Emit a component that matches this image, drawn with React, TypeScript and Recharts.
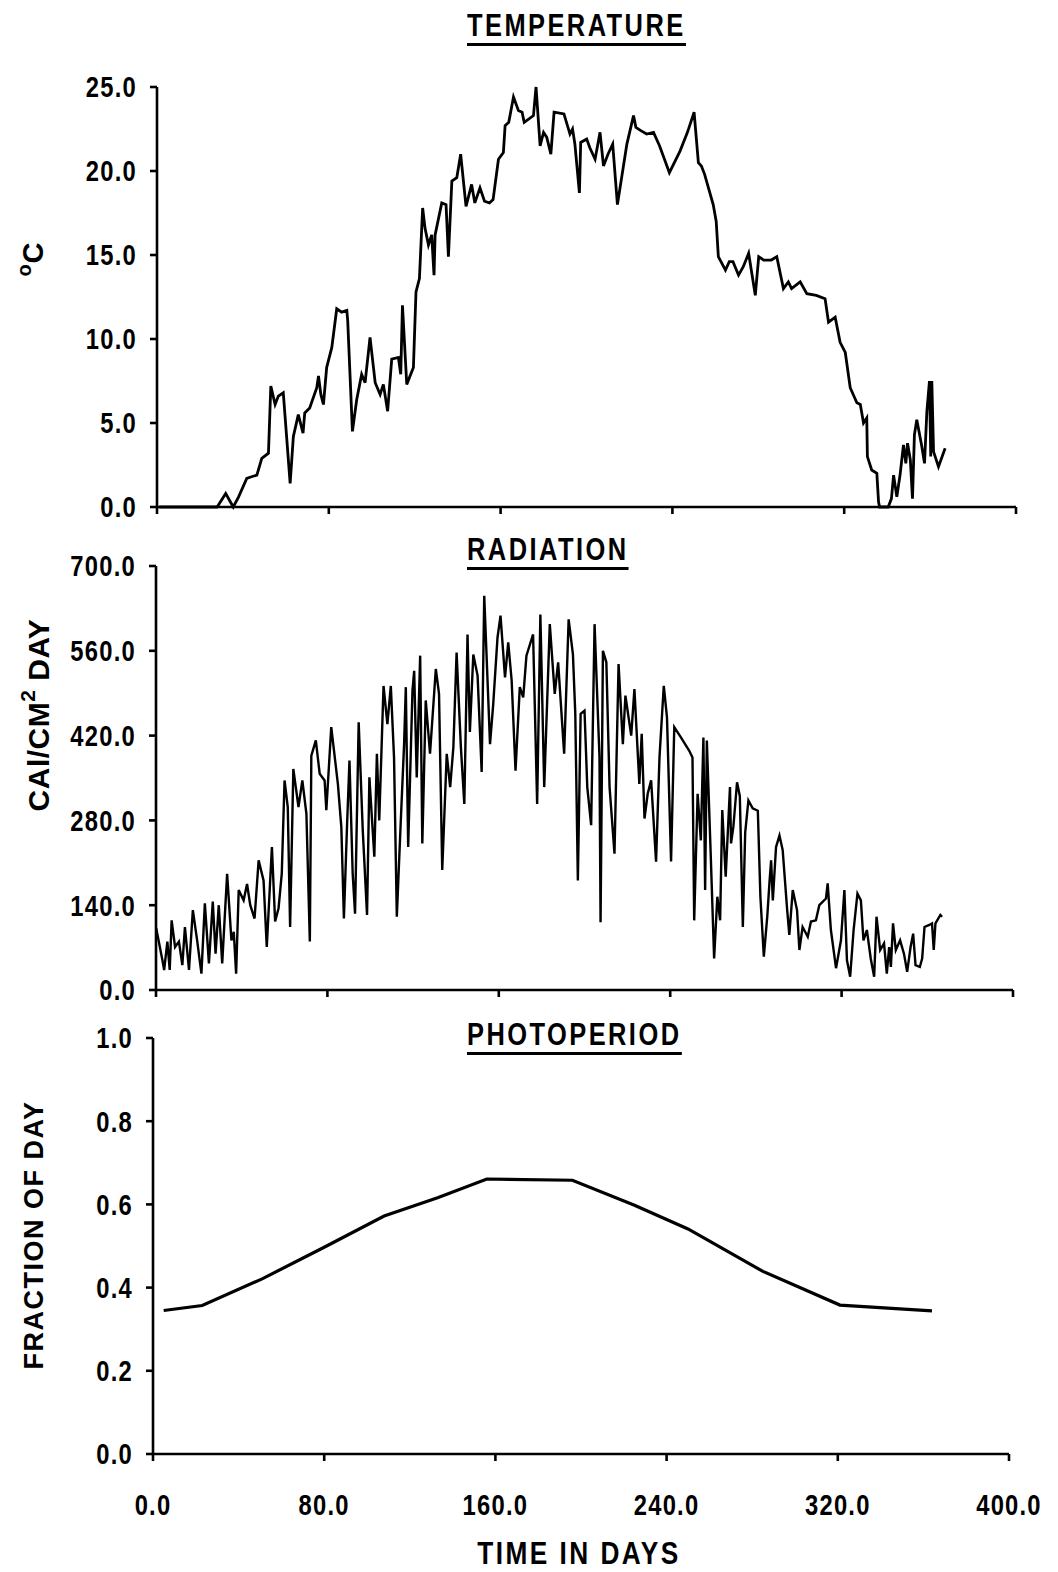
import React from 'react';
import { LineChart, Line, XAxis, YAxis } from 'recharts';

// shared day axis
const dayTicks = [0, 80, 160, 240, 320, 400];

// daily mean water temperature, deg C
const tempDays = [
  1, 28, 32, 35.5, 38, 41.8, 44, 46.5, 48.8, 51.9, 53, 55, 56.5, 58.8, 62, 63.5, 65.8, 68, 68.8, 71.1,
  74.4, 75.2, 76.3, 77.5, 79, 81.4, 83.7, 86, 88.4, 88.8, 91, 93, 95.3, 96.9, 99.2, 101.6, 103.9, 105.4, 107.4, 109.3,
  112.4, 113.5, 114.3, 116.3, 119.4, 120.6, 122.2, 123.7, 124.8, 126.4, 127.9, 129, 129.5, 132.6, 134.6, 135.7, 137.3, 139.6, 141.4, 143.9,
  146.5, 148, 150.4, 152.5, 154.8, 156.5, 159, 161.3, 162.1, 163.8, 166, 168.3, 170, 171, 175.3, 176.5, 178.4, 180, 181.5, 183.4,
  184.9, 189.5, 192.3, 193.5, 194.6, 196.7, 197.3, 200.1, 201.5, 204, 206.3, 207.9, 210, 212.2, 214.4, 218.8, 221.9, 223, 225.3, 228,
  231.2, 234, 238.6, 243.6, 247, 250.1, 252.1, 253.5, 255, 259, 260.4, 261.4, 264.7, 266.5, 268.2, 270.8, 273, 275.5, 278.6, 280.2,
  282.5, 286, 288.6, 291.7, 294, 295.5, 299.5, 302.6, 307, 311.1, 312.7, 315.8, 318.1, 320.5, 322.8, 325.9, 327.5, 329, 330.5, 330.8,
  332.8, 335.2, 336, 336.5, 340.5, 342, 343, 344.5, 346, 347.6, 348.7, 349.5, 350.8, 351.8, 352.7, 353.8, 356, 357.4, 358.5, 359.7,
  360.3, 360.8, 361.6, 363.9, 367,
];
const tempValues = [
  0, 0, 0.8, 0, 0.6, 1.7, 1.8, 1.9, 2.9, 3.2, 7.2, 6.1, 6.6, 6.8, 1.4, 4.2, 5.5, 4.4, 5.6, 5.9,
  7.1, 7.8, 6.7, 6.1, 8.3, 9.5, 11.8, 11.6, 11.7, 11.1, 4.5, 6.4, 7.9, 7.4, 10.1, 7.4, 6.7, 7.3, 5.7, 8.8,
  8.9, 7.9, 12.0, 7.3, 8.3, 12.8, 13.6, 17.8, 16.6, 15.6, 16.2, 13.8, 16.2, 18.1, 18.0, 14.9, 19.4, 19.6, 21.0, 17.9,
  19.2, 18.1, 19.0, 18.2, 18.1, 18.3, 20.7, 21.1, 22.7, 22.9, 24.4, 23.6, 23.5, 22.9, 23.3, 25.0, 21.5, 22.3, 22.0, 21.0,
  23.5, 23.4, 22.2, 22.5, 21.6, 18.7, 21.7, 21.9, 21.4, 20.7, 22.3, 20.3, 21.0, 21.6, 18.0, 21.6, 23.3, 22.6, 22.4, 22.2,
  22.3, 21.5, 19.9, 21.2, 22.3, 23.5, 20.5, 20.3, 19.8, 18.0, 17.0, 14.9, 14.1, 14.6, 14.6, 13.8, 14.3, 15.1, 12.6, 14.9,
  14.7, 14.7, 14.9, 13.0, 13.4, 13.0, 13.4, 12.7, 12.6, 12.4, 11.0, 11.3, 9.8, 9.2, 7.1, 6.2, 6.1, 5.0, 5.3, 3.0,
  2.2, 2.0, 0.3, 0, 0, 0.5, 1.9, 0.6, 1.9, 3.7, 2.6, 3.8, 2.8, 0.5, 4.3, 5.2, 3.7, 2.6, 5.7, 7.5,
  3.0, 7.5, 3.3, 2.4, 3.5,
];
const tempTicks = [0, 5, 10, 15, 20, 25];

// daily solar radiation, cal/cm2 day
const radDays = [
  0.1, 3, 3.8, 5.3, 6.4, 7.3, 8.9, 10.7, 12.3, 13.5, 15.4, 17.2, 19.2, 21.2, 22.8, 24.7, 26.5, 27.8, 29.3, 30.9,
  33.2, 35.2, 36.3, 37.4, 38.6, 40.9, 42.5, 44, 46, 47.9, 50.2, 51.7, 54.1, 55.6, 57.2, 58.7, 60, 61.5, 62.6, 64.1,
  66.5, 68.3, 70.2, 71.8, 72.5, 74.6, 76.4, 78.7, 79.5, 81.8, 84.9, 86.5, 87.7, 89.2, 90.3, 91.8, 92.9, 94.6, 96.5, 98.5,
  99.6, 101.9, 103.1, 104.2, 106.2, 108, 109.6, 111.1, 112.4, 114.2, 115.8, 116.6, 117.7, 119.7, 120.5, 121.7, 123.3, 124.3, 125.9, 127.9,
  130.6, 132.1, 133.6, 135.7, 137.3, 138.8, 140.3, 142.3, 143.9, 145.4, 146.5, 148.1, 150.1, 152, 153.2, 155.9, 157.4, 159.4, 160.8, 162.9,
  164.4, 166, 167.8, 169.8, 171.4, 172.9, 176, 177.9, 179.4, 181.2, 183.8, 186.1, 187.7, 190.5, 192.6, 194.6, 195.7, 196.9, 198.2, 200,
  201.3, 203.1, 204.7, 207, 207.5, 208.6, 210.2, 211.7, 214, 215.9, 217.9, 219.1, 221.8, 223.3, 225.6, 226.7, 228, 229.5, 231.1, 233.4,
  235, 237, 238.5, 240.4, 241.9, 245, 248.9, 250.4, 251.2, 252.8, 254.3, 255.5, 256.3, 257.1, 258.9, 260.5, 262, 263.3, 264.3, 265.9,
  267.9, 268.4, 269.5, 271.2, 272.5, 273.9, 275, 276.5, 278.5, 280.9, 282.1, 283.7, 285.3, 286.4, 287.1, 287.9, 289.4, 291, 292.5, 294.6,
  295.6, 297.2, 299.2, 300.3, 301.8, 304.2, 305.7, 308, 309.6, 312.7, 313.5, 315, 317.4, 319.7, 321.3, 322.5, 324, 325.6, 327.4, 329,
  330.2, 331.8, 333.6, 335.2, 336.3, 338, 339.8, 341.1, 342.2, 343, 344, 345.3, 347.3, 349.1, 350.6, 352.2, 353.4, 354.5, 356.5, 357.6,
  358.7, 360.7, 362.2, 363, 363.8, 366.1, 366.9,
];
const radValues = [
  102, 49, 33, 80, 33, 115, 71, 80, 41, 104, 33, 132, 82, 27, 143, 44, 146, 60, 140, 44,
  192, 82, 96, 27, 165, 148, 175, 140, 118, 214, 181, 71, 236, 113, 135, 192, 346, 302, 104, 365,
  302, 346, 291, 80, 387, 412, 357, 346, 297, 434, 340, 269, 118, 275, 379, 192, 126, 442, 264, 124,
  351, 220, 390, 280, 502, 439, 502, 384, 121, 275, 406, 500, 236, 494, 527, 351, 552, 242, 478, 390,
  530, 489, 198, 390, 335, 401, 557, 401, 307, 587, 426, 554, 519, 360, 651, 406, 472, 582, 618, 516,
  574, 511, 362, 500, 483, 552, 587, 307, 620, 335, 604, 489, 541, 390, 612, 554, 456, 181, 456, 461,
  335, 272, 604, 384, 112, 560, 541, 335, 225, 538, 406, 486, 420, 497, 340, 423, 283, 324, 346, 212,
  384, 502, 450, 212, 434, 417, 395, 384, 115, 324, 247, 417, 165, 412, 225, 52, 154, 115, 297, 187,
  335, 242, 270, 343, 320, 104, 260, 313, 300, 296, 154, 55, 121, 181, 214, 148, 236, 255, 231, 132,
  91, 165, 132, 66, 104, 88, 113, 115, 140, 151, 176, 99, 36, 82, 165, 49, 22, 99, 159, 148,
  82, 99, 52, 22, 121, 66, 77, 27, 71, 38, 110, 66, 82, 60, 30, 71, 93, 41, 38, 52,
  104, 107, 110, 66, 110, 124, 121,
];
const radTicks = [0, 140, 280, 420, 560, 700];

// daylength as a fraction of the day
const photoDays = [5, 23, 51, 80, 108, 133, 156, 196, 225, 250, 285, 321, 364];
const photoValues = [0.345, 0.357, 0.421, 0.497, 0.572, 0.616, 0.661, 0.658, 0.598, 0.541, 0.439, 0.358, 0.344];
const photoTicks = [0, 0.2, 0.4, 0.6, 0.8, 1.0];

const SANS = "'Liberation Sans', Arial, Helvetica, sans-serif";
const SQUEEZE = 0.82; // horizontal squeeze for the condensed lettering
const PAGE_W = 1058;

const toRows = (days: number[], values: number[]) => days.map((day, i) => ({ day, value: values[i] }));

const axisStroke = { stroke: '#000', strokeWidth: 2.6 };

// condensed bold tick text
const makeTick = (anchor: 'end' | 'middle', dy: string, show: boolean) => (props: any) => {
  const { x, y, payload } = props;
  if (!show) return <g />;
  return (
    <g transform={`translate(${x},${y})`}>
      <text
        transform={`scale(${SQUEEZE},1)`}
        textAnchor={anchor}
        dy={dy}
        fontFamily={SANS}
        fontWeight={700}
        fontSize={29}
        letterSpacing={1.5}
        fill="#000"
      >
        {Number(payload.value).toFixed(1)}
      </text>
    </g>
  );
};

interface PanelProps {
  top: number;
  height: number;
  plotLeft: number;
  plotRight: number;
  plotTop: number;
  plotBottom: number;
  xAxisHeight: number;
  rows: { day: number; value: number }[];
  yMax: number;
  yTicks: number[];
  showDays: boolean;
  lineWidth: number;
  yLabel: (top: number) => React.ReactElement;
  xLabel?: () => React.ReactElement;
}

const Panel: React.FC<PanelProps> = (p) => {
  const margin = {
    top: p.plotTop - p.top,
    right: PAGE_W - p.plotRight,
    left: 0,
    bottom: p.height - (p.plotBottom - p.top) - p.xAxisHeight,
  };
  return (
    <div style={{ position: 'absolute', left: 0, top: p.top }}>
      <LineChart width={PAGE_W} height={p.height} data={p.rows} margin={margin}>
        <XAxis
          dataKey="day"
          type="number"
          domain={[0, 400]}
          ticks={dayTicks}
          interval={0}
          height={p.xAxisHeight}
          axisLine={axisStroke}
          tickLine={axisStroke}
          tickSize={7}
          tickMargin={33}
          tick={makeTick('middle', '0.71em', p.showDays)}
          label={p.xLabel ? { content: p.xLabel } : undefined}
        />
        <YAxis
          type="number"
          domain={[0, p.yMax]}
          ticks={p.yTicks}
          interval={0}
          width={p.plotLeft}
          axisLine={axisStroke}
          tickLine={axisStroke}
          tickSize={7}
          tickMargin={13}
          tick={makeTick('end', '0.355em', true)}
          label={{ content: () => p.yLabel(p.top) }}
        />
        <Line
          type="linear"
          dataKey="value"
          stroke="#000"
          strokeWidth={p.lineWidth}
          dot={false}
          isAnimationActive={false}
        />
      </LineChart>
    </div>
  );
};

// rotated y axis titles, placed in page coordinates
const rotated = (cx: number, cy: number, children: React.ReactNode, size: number, spacing: number) => (
  <text
    x={cx}
    y={cy}
    transform={`rotate(-90, ${cx}, ${cy})`}
    textAnchor="middle"
    dominantBaseline="central"
    fontFamily={SANS}
    fontWeight={700}
    fontSize={size}
    letterSpacing={spacing}
    fill="#000"
  >
    {children}
  </text>
);

const Title: React.FC<{ top: number; text: string }> = ({ top, text }) => (
  <div
    style={{
      position: 'absolute',
      left: 467,
      top,
      fontFamily: SANS,
      fontWeight: 700,
      fontSize: 31,
      lineHeight: '30px',
      letterSpacing: 3,
      paddingBottom: 2,
      borderBottom: '3px solid #000',
      color: '#000',
      whiteSpace: 'nowrap',
      transform: `scaleX(${SQUEEZE})`,
      transformOrigin: 'left top',
    }}
  >
    {text}
  </div>
);

export default function App() {
  return (
    <div style={{ position: 'absolute', left: 0, top: 0, width: PAGE_W, height: 1572, background: '#fff' }}>
      <Panel
        top={0}
        height={530}
        plotLeft={157}
        plotRight={1016}
        plotTop={87}
        plotBottom={507}
        xAxisHeight={20}
        rows={toRows(tempDays, tempValues)}
        yMax={25}
        yTicks={tempTicks}
        showDays={false}
        lineWidth={2.8}
        yLabel={(top) =>
          rotated(
            33,
            259 - top,
            <>
              <tspan fontSize={20} dy={-9}>o</tspan>
              <tspan dy={9}>C</tspan>
            </>,
            29,
            1,
          )
        }
      />
      <Panel
        top={530}
        height={480}
        plotLeft={156}
        plotRight={1013}
        plotTop={566}
        plotBottom={990}
        xAxisHeight={20}
        rows={toRows(radDays, radValues)}
        yMax={700}
        yTicks={radTicks}
        showDays={false}
        lineWidth={2.4}
        yLabel={(top) =>
          rotated(
            38,
            715 - top,
            <>
              CAl/CM
              <tspan fontSize={21} dy={-11}>2</tspan>
              <tspan dy={11}> DAY</tspan>
            </>,
            30,
            0.5,
          )
        }
      />
      <Panel
        top={1010}
        height={562}
        plotLeft={153}
        plotRight={1009}
        plotTop={1038}
        plotBottom={1454}
        xAxisHeight={110}
        rows={toRows(photoDays, photoValues)}
        yMax={1}
        yTicks={photoTicks}
        showDays={true}
        lineWidth={3.2}
        yLabel={(top) => rotated(34, 1235 - top, 'FRACTION OF DAY', 27, 1.5)}
        xLabel={() => (
          <g transform={`translate(579, ${1553 - 1010})`}>
            <text
              transform={`scale(${SQUEEZE},1)`}
              textAnchor="middle"
              dominantBaseline="central"
              fontFamily={SANS}
              fontWeight={700}
              fontSize={32}
              letterSpacing={3}
              fill="#000"
            >
              TIME IN DAYS
            </text>
          </g>
        )}
      />
      <Title top={11} text="TEMPERATURE" />
      <Title top={535} text="RADIATION" />
      <Title top={1020} text="PHOTOPERIOD" />
    </div>
  );
}
